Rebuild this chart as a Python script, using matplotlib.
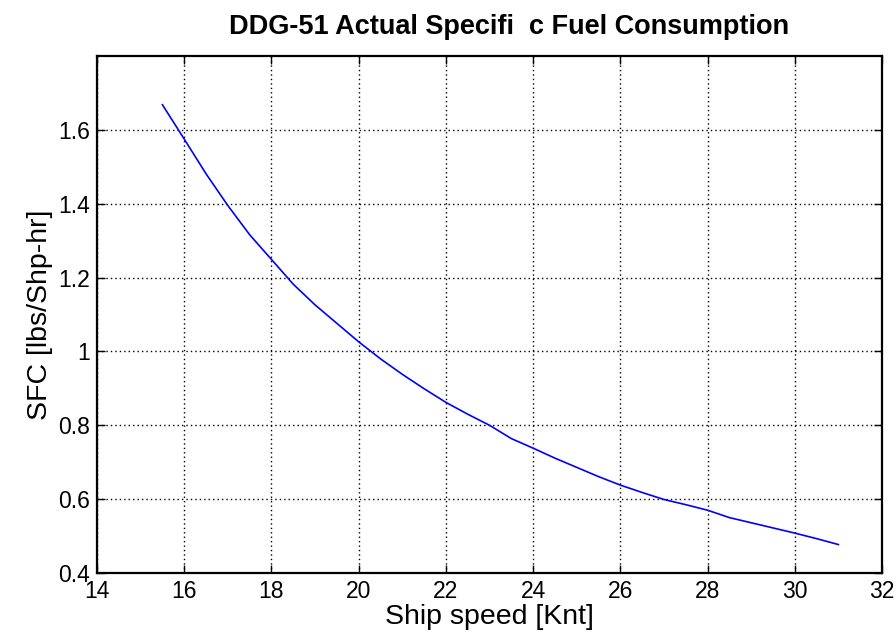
#!/usr/bin/env python3
# coding=utf-8

import numpy as np
import matplotlib
matplotlib.use('Agg')
import matplotlib.pyplot as plt

# ship speed [knots] and specific fuel consumption [lbs/Shp-hr]
speed = [15.5, 16.0, 16.5, 17.0, 17.5, 18.0, 18.5, 19.0, 19.5, 20.0, 20.5,
         21.0, 21.5, 22.0, 22.5, 23.0, 23.5, 24.0, 24.5, 25.0, 25.5, 26.0,
         26.5, 27.0, 27.5, 28.0, 28.5, 29.0, 29.5, 30.0, 30.5, 31.0]
sfc = [1.668, 1.575, 1.481, 1.395, 1.316, 1.249, 1.182, 1.126, 1.076, 1.026,
       0.980, 0.938, 0.899, 0.862, 0.830, 0.800, 0.764, 0.738, 0.711, 0.686,
       0.661, 0.638, 0.618, 0.599, 0.585, 0.570, 0.550, 0.536, 0.522, 0.508,
       0.493, 0.477]

x_ticks = [14, 16, 18, 20, 22, 24, 26, 28, 30, 32]
y_ticks = [0.4, 0.6, 0.8, 1.0, 1.2, 1.4, 1.6]
y_tick_labels = ['0.4', '0.6', '0.8', '1', '1.2', '1.4', '1.6']

plt.rcParams['font.family'] = ['Liberation Sans', 'DejaVu Sans']

fig = plt.figure(figsize=(8.96, 6.41), dpi=100)
ax = fig.add_axes([0.1083, 0.1061, 0.8761, 0.8065])

ax.plot(speed, sfc, color='#0000ff', linewidth=1.2)

ax.set_xlim(14, 32)
ax.set_ylim(0.4, 1.8)
ax.set_xticks(x_ticks)
ax.set_yticks(y_ticks)
ax.set_yticklabels(y_tick_labels)
ax.grid(True, color='black', linestyle=(0, (1, 2.2)), linewidth=1.0)
ax.tick_params(direction='in', length=6, width=1, top=True, right=True,
               labelsize=16.5, pad=5)
for s in ax.spines.values():
    s.set_linewidth(1.6)

ax.set_title('DDG-51 Actual Specifi  c Fuel Consumption', fontsize=19.5,
             fontweight='bold', pad=16, x=0.525)
ax.set_xlabel('Ship speed [Knt]', fontsize=20.5, labelpad=1)
ax.set_ylabel('SFC [lbs/Shp-hr]', fontsize=20.5, labelpad=4)

fig.savefig('out.png', dpi=100)
